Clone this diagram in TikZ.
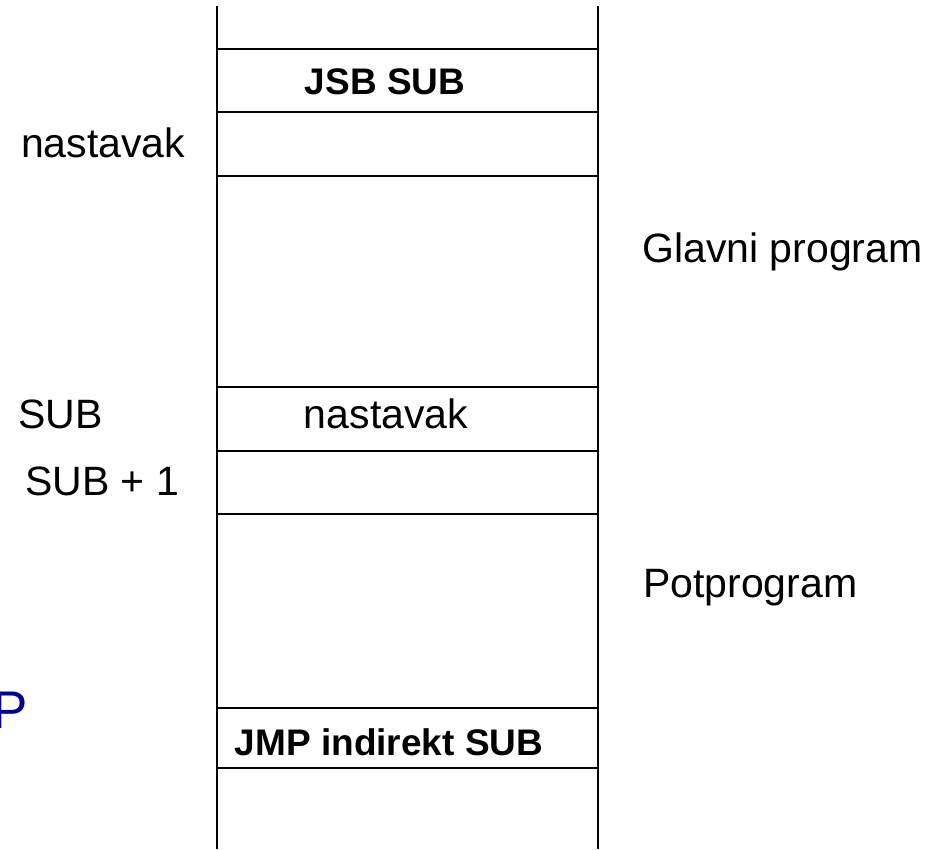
\documentclass[tikz,border=0pt]{standalone}
\usepackage{fontspec}
\setmainfont{Liberation Sans}
\definecolor{pblue}{RGB}{0,0,153}
\begin{document}
\begin{tikzpicture}[x=1pt,y=-1pt,
  vrule/.style={line width=2.2pt,black},
  hrule/.style={line width=1.8pt,black},
  lbl/.style={inner sep=0pt,font=\fontsize{41}{41}\selectfont},
  instr/.style={inner sep=0pt,font=\fontsize{37}{37}\selectfont\bfseries}]
\useasboundingbox (0,0) rectangle (945,849);
% column
\coordinate (tl) at (217,6);
\coordinate (tr) at (598,6);
\coordinate (bl) at (217,849);
\coordinate (br) at (598,849);
\draw[vrule] (tl) -- (bl);
\draw[vrule] (tr) -- (br);
\foreach \y/\n in {49/a,112/b,176/c,387/d,451/e,514/f,708/g,768/h}{
  \coordinate (l\n) at (217,\y);
  \coordinate (r\n) at (598,\y);
  \draw[hrule] (l\n) -- (r\n);
}
% cell texts
\node[instr,anchor=base] (jsb) at (385,94) {JSB SUB};
\node[lbl,anchor=base] (nast2) at (386,428) {nastavak};
\node[instr,anchor=base] (jmp) at (389,755) {JMP indirekt SUB};
% left labels
\node[lbl,anchor=base west] (nast1) at (21,157) {nastavak};
\node[lbl,anchor=base west] (sub) at (18,428) {SUB};
\node[lbl,anchor=base west] (sub1) at (25,495) {SUB + 1};
% right labels
\node[lbl,anchor=base west] (glav) at (642,262) {Glavni program};
\node[lbl,anchor=base west] (potp) at (643,597) {Potprogram};
% clipped blue letter (cut by the left edge, as in the reference)
\node[inner sep=0pt,anchor=base west,text=pblue,font=\fontsize{53}{53}\selectfont] (pp) at (-8,728) {P};
\end{tikzpicture}
\end{document}
